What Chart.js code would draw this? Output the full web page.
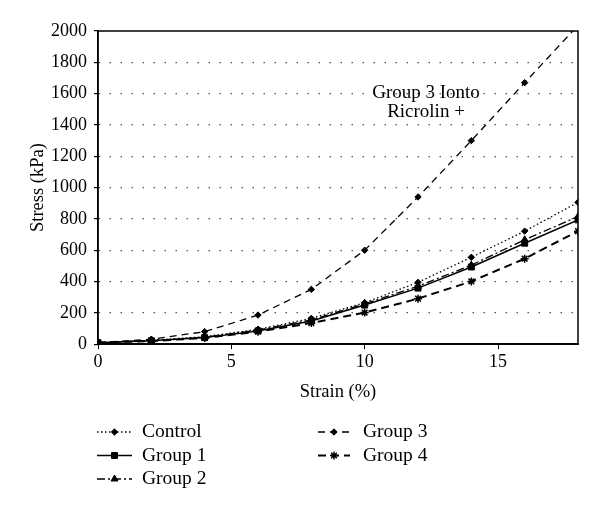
<!DOCTYPE html>
<html>
<head>
<meta charset="utf-8">
<script src="https://cdn.jsdelivr.net/npm/chart.js@4.4.0/dist/chart.umd.min.js"></script>
<style>
  html, body { margin: 0; padding: 0; background: #fff; }
  #wrap { width: 600px; height: 514px; }
</style>
</head>
<body>
<div id="wrap"><canvas id="stressChart" width="600" height="514"></canvas></div>
<script>
// strain (%) at each measurement
const strain = [0, 2, 4, 6, 8, 10, 12, 14, 16, 18];

// stress (kPa) per group
const control = [10, 25, 48, 95, 165, 265, 395, 555, 722, 906];
const group1 = [10, 22, 42, 85, 148, 250, 358, 493, 645, 794];
const group2 = [10, 24, 45, 90, 155, 258, 370, 505, 667, 815];
const group3 = [10, 32, 80, 186, 350, 600, 940, 1300, 1670, 2035];
const group4 = [10, 20, 40, 80, 135, 202, 291, 401, 546, 722];

const seriesNames = ['Control', 'Group 1', 'Group 2', 'Group 3', 'Group 4'];
const xTicks = [0, 5, 10, 15];
const yMax = 2000;
const noteLines = ['Group 3 Ionto', 'Ricrolin +'];

const FONT = '"Liberation Serif", "Times New Roman", serif';

function points(ys) {
    return strain.map((x, i) => ({ x: x, y: ys[i] }));
}

const styles = [
    { dash: [1.5, 2.5], width: 1.3, point: 'rectRot', r: 3.2 },
    { dash: [], width: 1.5, point: 'rect', r: 4.2 },
    { dash: [8, 3, 2, 3], width: 1.3, point: 'triangle', r: 4 },
    { dash: [7, 5], width: 1.3, point: 'rectRot', r: 3.2 },
    { dash: [8, 5], width: 2, point: 'star', r: 4 }
];

const allSeries = [control, group1, group2, group3, group4];

const datasets = allSeries.map((ys, i) => ({
    label: seriesNames[i],
    data: points(ys),
    borderColor: '#000',
    backgroundColor: '#000',
    borderWidth: styles[i].width,
    borderDash: styles[i].dash,
    pointStyle: styles[i].point,
    pointRadius: styles[i].r,
    pointBackgroundColor: '#000',
    pointBorderColor: '#000',
    pointBorderWidth: styles[i].point === 'star' ? 1.5 : 1,
    tension: 0,
    fill: false
}));

// frame around the plot, the note and the two-column legend
const extras = {
    id: 'extras',
    afterDraw(chart) {
        const ctx = chart.ctx;
        const area = chart.chartArea;
        ctx.save();
        ctx.lineWidth = 1.5;
        ctx.strokeStyle = '#000';
        ctx.setLineDash([]);
        ctx.strokeRect(area.left, area.top, area.right - area.left, area.bottom - area.top);

        // note next to group 3
        const xs = chart.scales.x, ys = chart.scales.y;
        ctx.fillStyle = '#000';
        ctx.font = '19px ' + FONT;
        ctx.textAlign = 'center';
        ctx.textBaseline = 'middle';
        ctx.fillText(noteLines[0], xs.getPixelForValue(12.3), ys.getPixelForValue(1607));
        ctx.fillText(noteLines[1], xs.getPixelForValue(12.3), ys.getPixelForValue(1480));

        // legend
        const cols = [{ x1: 97, x2: 132, text: 142 }, { x1: 318, x2: 350, text: 363 }];
        const rowY = [432, 455.5, 479];
        const place = [[0, 0], [0, 1], [0, 2], [1, 0], [1, 1]];
        ctx.textAlign = 'left';
        ctx.font = '19.5px ' + FONT;
        chart.data.datasets.forEach((ds, i) => {
            const c = cols[place[i][0]];
            const y = rowY[place[i][1]];
            ctx.lineWidth = ds.borderWidth;
            ctx.setLineDash(ds.borderDash);
            ctx.beginPath();
            ctx.moveTo(c.x1, y);
            ctx.lineTo(c.x2, y);
            ctx.stroke();
            ctx.setLineDash([]);
            ctx.lineWidth = ds.pointBorderWidth;
            Chart.helpers.drawPoint(ctx, {
                pointStyle: ds.pointStyle,
                radius: ds.pointRadius,
                rotation: 0,
                borderWidth: ds.pointBorderWidth
            }, (c.x1 + c.x2) / 2, y);
            ctx.fillText(ds.label, c.text, y);
        });
        ctx.restore();
    }
};

new Chart(document.getElementById('stressChart'), {
    type: 'line',
    data: { datasets: datasets },
    options: {
        responsive: false,
        animation: false,
        layout: { padding: { top: 31, right: 22, bottom: 111, left: 27 } },
        plugins: {
            legend: { display: false },
            tooltip: { enabled: false }
        },
        scales: {
            x: {
                type: 'linear',
                min: 0,
                max: 18,
                afterBuildTicks: axis => { axis.ticks = xTicks.map(v => ({ value: v })); },
                ticks: { color: '#000', font: { family: FONT, size: 18 }, padding: 2, callback: v => String(v) },
                grid: { drawOnChartArea: false, tickLength: 5, color: '#000', tickColor: '#000' },
                border: { color: '#000', width: 1.5 },
                title: {
                    display: true, text: 'Strain (%)', color: '#000',
                    font: { family: FONT, size: 18.5 }, padding: { top: 6, bottom: 0 }
                }
            },
            y: {
                min: 0,
                max: yMax,
                afterFit: axis => { axis.width = 71; },
                ticks: { stepSize: 200, color: '#000', font: { family: FONT, size: 18 }, padding: 7, callback: v => String(v) },
                grid: {
                    color: c => (c.tick && (c.tick.value === 0 || c.tick.value === yMax)) ? 'rgba(0,0,0,0)' : '#555',
                    tickColor: '#000',
                    tickLength: 4,
                    lineWidth: 1.2
                },
                border: { color: '#000', width: 1.5, dash: [1.5, 9.5] },
                title: {
                    display: true, text: 'Stress (kPa)', color: '#000',
                    font: { family: FONT, size: 18.5 }, padding: { top: 0, bottom: 0 }
                }
            }
        }
    },
    plugins: [extras]
});
</script>
</body>
</html>
